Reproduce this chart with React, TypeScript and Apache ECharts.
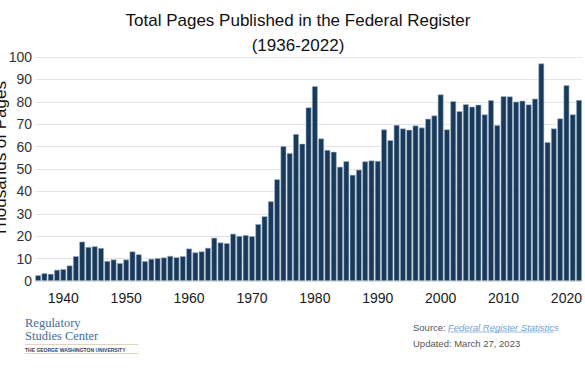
import React, { useEffect, useRef } from "react";
import * as echarts from "echarts";

const years: string[] = [];
for (let y = 1936; y <= 2022; y++) years.push(String(y));

// Thousands of pages published per year
const pages: number[] = [
  2.6, 3.5, 3.2, 5.0, 5.3, 6.9, 11.1, 17.6, 15.2, 15.5,
  14.7, 8.9, 9.6, 8.0, 9.6, 13.2, 11.9, 8.9, 9.9, 10.2,
  10.5, 11.2, 10.6, 11.1, 14.5, 12.8, 13.2, 14.8, 19.3, 17.2,
  16.9, 21.1, 20.1, 20.5, 20.0, 25.4, 28.9, 35.6, 45.4, 60.2,
  57.1, 65.6, 61.3, 77.5, 87.0, 63.6, 58.5, 57.7, 51.0, 53.5,
  47.4, 49.7, 53.4, 53.8, 53.6, 67.7, 62.9, 69.7, 68.1, 67.5,
  69.4, 68.5, 72.4, 73.9, 83.3, 67.7, 80.3, 75.8, 78.9, 77.8,
  78.7, 74.4, 80.7, 69.6, 82.5, 82.4, 80.1, 80.5, 78.8, 81.4,
  97.1, 62.0, 68.1, 72.6, 87.4, 74.4, 80.8,
];

const yTicks = { min: 0, max: 100, interval: 10 };
const titleLines = ["Total Pages Published in the Federal Register", "(1936-2022)"];
const yAxisTitle = "Thousands of Pages";

export default function App() {
  const ref = useRef<HTMLDivElement>(null);
  useEffect(() => {
    if (!ref.current) return;
    const chart = echarts.init(ref.current, undefined, { renderer: "svg" });
    chart.setOption({
      animation: false,
      backgroundColor: "#ffffff",
      grid: { left: 35, right: 0, top: 57, bottom: 87 },
      xAxis: {
        type: "category",
        data: years,
        axisLine: { show: false },
        axisTick: { show: false },
        axisLabel: {
          interval: (_i: number, v: string) => Number(v) % 10 === 0,
          color: "#1a1a1a",
          fontSize: 14,
          fontFamily: "Liberation Sans, Arial, sans-serif",
          margin: 10,
        },
      },
      yAxis: {
        type: "value",
        min: yTicks.min,
        max: yTicks.max,
        interval: yTicks.interval,
        axisLine: { show: false },
        axisTick: { show: false },
        splitLine: { lineStyle: { color: "#e4e4e4", width: 1 } },
        axisLabel: {
          color: "#333333",
          fontSize: 14,
          fontFamily: "Liberation Sans, Arial, sans-serif",
          margin: 3,
        },
      },
      series: [
        {
          type: "bar",
          data: pages,
          barCategoryGap: "8%",
          itemStyle: { color: "#19395b", borderColor: "#a7bccf", borderWidth: 0.6 },
        },
      ],
      graphic: [
        {
          type: "text",
          x: 298,
          y: 20,
          style: {
            text: titleLines[0],
            fontSize: 17,
            fontFamily: "Liberation Sans, Arial, sans-serif",
            fill: "#111111",
            align: "center",
            verticalAlign: "middle",
          },
        },
        {
          type: "text",
          x: 298,
          y: 45,
          style: {
            text: titleLines[1],
            fontSize: 17,
            fontFamily: "Liberation Sans, Arial, sans-serif",
            fill: "#111111",
            align: "center",
            verticalAlign: "middle",
          },
        },
        {
          type: "text",
          x: 0,
          y: 159,
          rotation: Math.PI / 2,
          style: {
            text: yAxisTitle,
            fontSize: 17,
            fontFamily: "Liberation Sans, Arial, sans-serif",
            fill: "#111111",
            align: "center",
            verticalAlign: "middle",
          },
        },
        {
          type: "text",
          x: 25,
          y: 323,
          style: {
            text: "Regulatory",
            fontSize: 12.5,
            fontFamily: "Liberation Serif, serif",
            fill: "#3f6d99",
            verticalAlign: "middle",
          },
        },
        {
          type: "text",
          x: 25,
          y: 336,
          style: {
            text: "Studies Center",
            fontSize: 12.5,
            fontFamily: "Liberation Serif, serif",
            fill: "#3f6d99",
            verticalAlign: "middle",
          },
        },
        {
          type: "line",
          shape: { x1: 25, y1: 344.5, x2: 138, y2: 344.5 },
          style: { stroke: "#d8c9a8", lineWidth: 0.8 },
        },
        {
          type: "text",
          x: 25,
          y: 349.5,
          style: {
            text: "THE GEORGE WASHINGTON UNIVERSITY",
            fontSize: 5,
            fontWeight: "bold",
            fontFamily: "Liberation Sans, Arial, sans-serif",
            fill: "#2a4566",
            verticalAlign: "middle",
          },
        },
        {
          type: "line",
          shape: { x1: 25, y1: 353.5, x2: 138, y2: 353.5 },
          style: { stroke: "#d8c9a8", lineWidth: 0.8 },
        },
        {
          type: "text",
          x: 413,
          y: 327,
          style: {
            text: "Source: ",
            fontSize: 9.5,
            fontFamily: "Liberation Sans, Arial, sans-serif",
            fill: "#555555",
            verticalAlign: "middle",
          },
        },
        {
          type: "text",
          x: 448,
          y: 327,
          style: {
            text: "Federal Register Statistics",
            fontSize: 9.5,
            fontStyle: "italic",
            fontFamily: "Liberation Sans, Arial, sans-serif",
            fill: "#6ea2d6",
            verticalAlign: "middle",
          },
        },
        {
          type: "line",
          shape: { x1: 448, y1: 332, x2: 554, y2: 332 },
          style: { stroke: "#6ea2d6", lineWidth: 0.7 },
        },
        {
          type: "text",
          x: 413,
          y: 343,
          style: {
            text: "Updated: March 27, 2023",
            fontSize: 9.5,
            fontFamily: "Liberation Sans, Arial, sans-serif",
            fill: "#555555",
            verticalAlign: "middle",
          },
        },
      ],
    });
    return () => chart.dispose();
  }, []);
  return (
    <div
      ref={ref}
      style={{ position: "fixed", left: 0, top: 0, width: 585, height: 368 }}
    />
  );
}
